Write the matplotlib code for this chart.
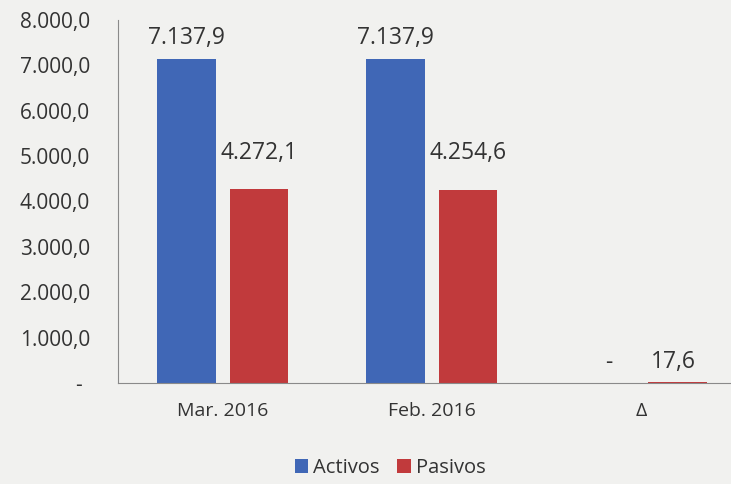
import matplotlib.pyplot as plt
import numpy as np

# datos
categorias = ['Mar. 2016', 'Feb. 2016', 'Δ']
activos = [7137.9, 7137.9, 0.0]
pasivos = [4272.1, 4254.6, 17.6]
etiquetas_activos = ['7.137,9', '7.137,9', '-']
etiquetas_pasivos = ['4.272,1', '4.254,6', '17,6']
yticks = [0, 1000, 2000, 3000, 4000, 5000, 6000, 7000, 8000]
ytick_labels = ['-', '1.000,0', '2.000,0', '3.000,0', '4.000,0',
                '5.000,0', '6.000,0', '7.000,0', '8.000,0']

plt.rcParams['font.family'] = ['Open Sans', 'DejaVu Sans']
bg = '#f1f1ef'
txt = '#333333'

fig = plt.figure(figsize=(7.31, 4.84), dpi=100, facecolor=bg)
ax = fig.add_axes([118 / 731, 1 - 383 / 484, 1 - 118 / 731, (383 - 20) / 484])
ax.set_facecolor(bg)

x = np.arange(len(categorias))
w = 0.28
off = 0.173
b1 = ax.bar(x - off, activos, w, color='#4067b6', label='Activos', zorder=2)
b2 = ax.bar(x + off, pasivos, w, color='#c13a3c', label='Pasivos', zorder=2)

for xi, v, s in zip(x, activos, etiquetas_activos):
    ax.annotate(s, (xi - off + (0.02 if v < 1000 else 0), v),
                xytext=(0, 11 if v > 1000 else 10),
                textcoords='offset points',
                ha='center', va='baseline', fontsize=16.5, color=txt)
for xi, v, s in zip(x, pasivos, etiquetas_pasivos):
    ax.annotate(s, (xi + off - (0.02 if v < 1000 else 0), v),
                xytext=(0, 22 if v > 1000 else 10),
                textcoords='offset points',
                ha='center', va='baseline', fontsize=16.5, color=txt)

ax.set_xlim(-0.5, 2.43)
ax.set_ylim(0, 8000)
ax.set_yticks(yticks)
ax.set_yticklabels(ytick_labels, fontsize=15, color=txt)
ax.set_xticks(x)
ax.set_xticklabels(categorias, fontsize=14, color=txt)
ax.tick_params(length=0)
ax.tick_params(axis='y', pad=20)
ax.tick_params(axis='x', pad=14)
# el guion del cero va algo más a la izquierda
zero_lbl = ax.yaxis.get_major_ticks()[0].label1
zero_lbl.set_x(-0.013)

for sp in ['top', 'right']:
    ax.spines[sp].set_visible(False)
ax.spines['left'].set_color('#8a8a8a')
ax.spines['bottom'].set_color('#8a8a8a')

leg = fig.legend(handles=[b1, b2], loc='center', bbox_to_anchor=(390 / 731, 1 - 468 / 484),
                 ncol=2, frameon=False, fontsize=14.5, handlelength=0.65,
                 handleheight=0.65, handletextpad=0.25, columnspacing=0.9)
for t in leg.get_texts():
    t.set_color(txt)

fig.savefig('out.png', dpi=100, facecolor=bg)
